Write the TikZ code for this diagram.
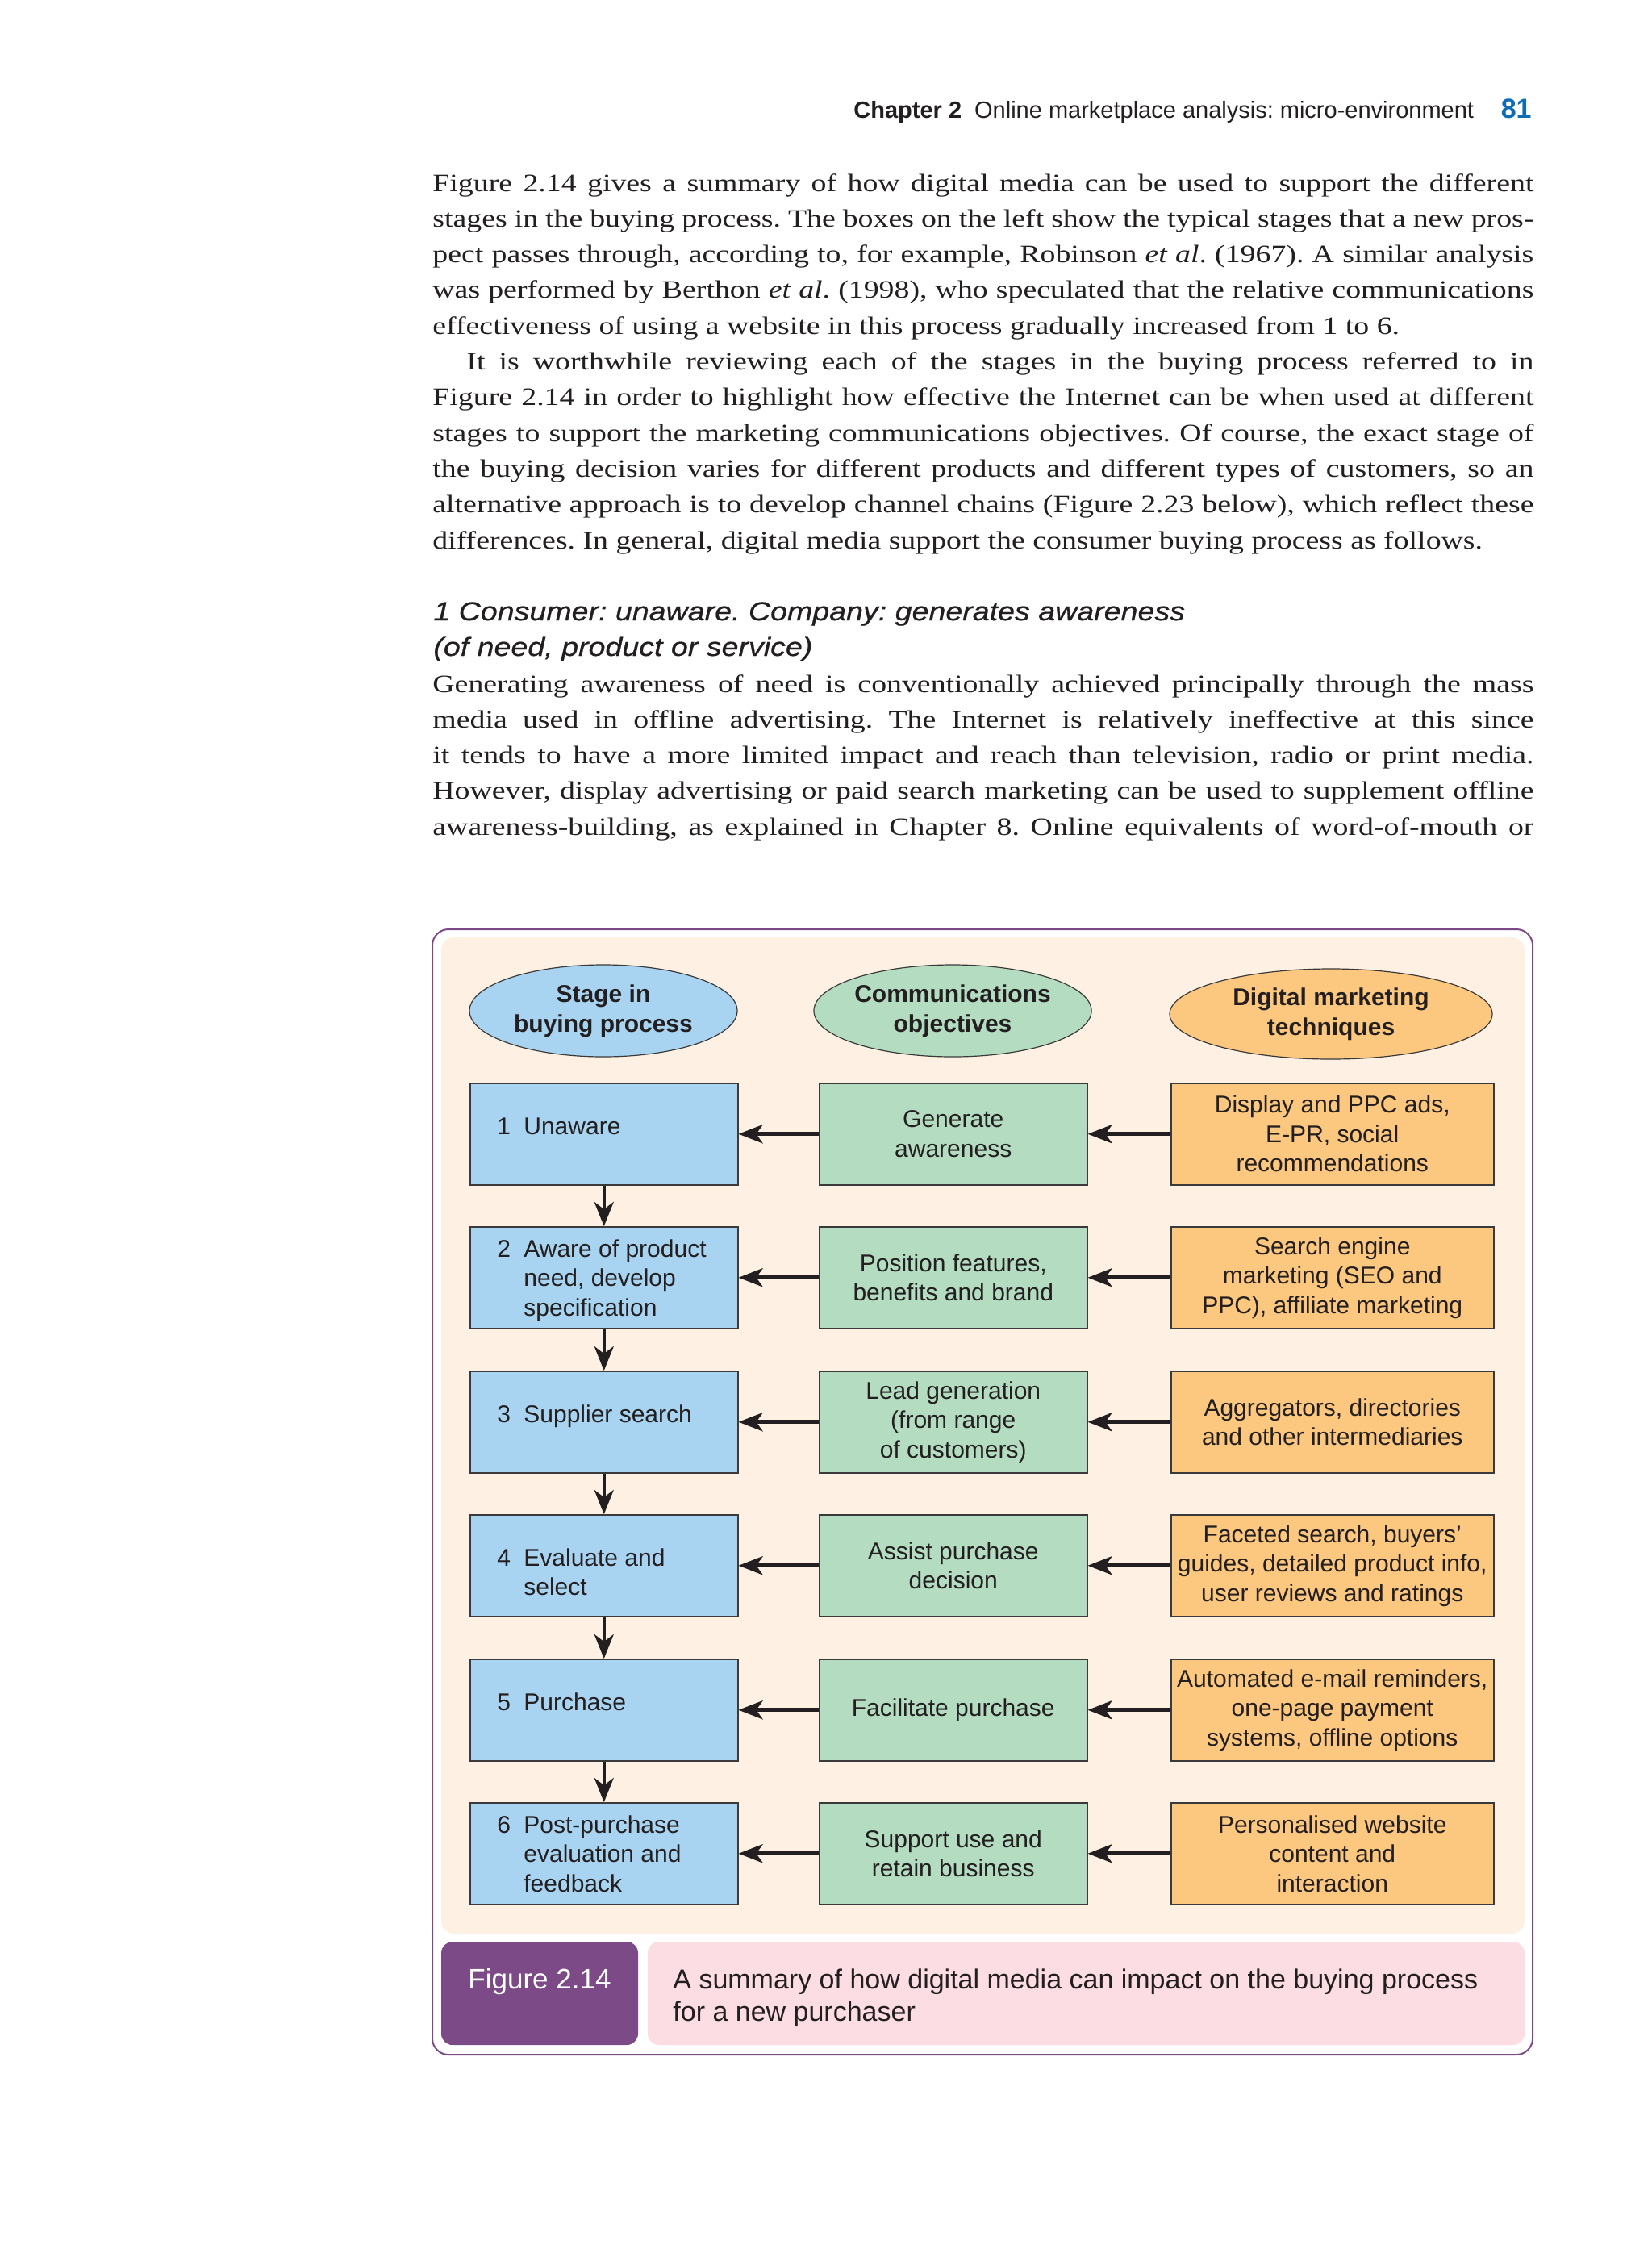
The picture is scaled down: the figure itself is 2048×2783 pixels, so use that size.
\documentclass[tikz,border=0pt]{standalone}
\usepackage{fontspec}
\setmainfont{Liberation Sans}
\newfontfamily\bodyserif{Liberation Serif}[FakeStretch=1.22]
\newfontfamily\headsans{Liberation Sans}[FakeStretch=1.16,FakeBold=0.6]
\usetikzlibrary{arrows.meta,shapes.geometric}
\definecolor{blueF}{HTML}{A9D4F1}
\definecolor{greenF}{HTML}{B4DCC1}
\definecolor{orangeF}{HTML}{FCC77F}
\definecolor{creamF}{HTML}{FEF1E3}
\definecolor{purpleF}{HTML}{7B4A87}
\definecolor{pinkF}{HTML}{FBDDE3}
\definecolor{inkC}{HTML}{231F20}
\definecolor{pagenumC}{HTML}{0E6CB5}
\definecolor{edgeC}{HTML}{3A3A3A}
\newcommand{\LW}{682.5pt}
\newcommand{\stg}[1]{\parbox[t]{140pt}{\raggedright\fontsize{15pt}{18.25pt}\selectfont #1}}
\frenchspacing
\begin{document}
\begin{tikzpicture}[x=0.5pt,y=-0.5pt,
  boxbase/.style={draw=edgeC, line width=0.75pt, inner sep=0, anchor=north west,
    minimum width=166pt, minimum height=63pt, align=center, text=inkC,
    font=\fontsize{15pt}{18.25pt}\selectfont},
  stagebox/.style={boxbase, fill=blueF},
  objbox/.style={boxbase, fill=greenF},
  techbox/.style={boxbase, fill=orangeF, minimum width=200pt},
  headell/.style={ellipse, draw=edgeC, line width=0.6pt, inner sep=0, align=center,
    text=inkC, font=\bfseries\fontsize{15pt}{18.5pt}\selectfont},
  sttext/.style={anchor=base west, inner sep=0, text=inkC, font=\fontsize{15pt}{18.25pt}\selectfont},
  harrow/.style={-{Stealth[length=15pt,width=11.5pt,inset=4pt]}, line width=2.5pt, draw=inkC},
  varrow/.style={-{Stealth[length=15pt,width=12pt,inset=4.5pt]}, line width=2pt, draw=inkC},
  plain/.style={inner sep=0, text=inkC}
]
\path[use as bounding box, fill=white] (0,0) rectangle (2048,2783);

% running head
\node[plain, anchor=base west, font=\fontsize{14.5pt}{17pt}\selectfont] (hdr) at (1058,147)
  {\textbf{Chapter 2}\hspace{8pt}Online marketplace analysis: micro-environment};
\node[inner sep=0, anchor=base east, text=pagenumC, font=\bfseries\fontsize{17pt}{20pt}\selectfont] (pnum) at (1899,147) {81};

% body text
\node[plain, anchor=base west] (body1) at (536,237) {\parbox[t]{\LW}{\bodyserif\fontsize{15.5pt}{22.15pt}\selectfont\frenchspacing
\hbox to\LW{Figure 2.14 gives a summary of how digital media can be used to support the different}
\hbox to\LW{stages in the buying process. The boxes on the left show the typical stages that a new pros-}
\hbox to\LW{pect passes through, according to, for example, Robinson \textit{et al}. (1967). A similar analysis}
\hbox to\LW{was performed by Berthon \textit{et al}. (1998), who speculated that the relative communications}
\hbox{effectiveness of using a website in this process gradually increased from 1 to 6.}
\hbox to\LW{\hskip 21pt It is worthwhile reviewing each of the stages in the buying process referred to in}
\hbox to\LW{Figure 2.14 in order to highlight how effective the Internet can be when used at different}
\hbox to\LW{stages to support the marketing communications objectives. Of course, the exact stage of}
\hbox to\LW{the buying decision varies for different products and different types of customers, so an}
\hbox to\LW{alternative approach is to develop channel chains (Figure 2.23 below), which reflect these}
\hbox{differences. In general, digital media support the consumer buying process as follows.}
}};

\node[plain, anchor=base west] (head1) at (537,769) {\parbox[t]{\LW}{\headsans\itshape\fontsize{16.2pt}{22pt}\selectfont\frenchspacing
\hbox{1 Consumer: unaware. Company: generates awareness}
\hbox{(of need, product or service)}
}};

\node[plain, anchor=base west] (body2) at (536,858) {\parbox[t]{\LW}{\bodyserif\fontsize{15.5pt}{22.15pt}\selectfont\frenchspacing
\hbox to\LW{Generating awareness of need is conventionally achieved principally through the mass}
\hbox to\LW{media used in offline advertising. The Internet is relatively ineffective at this since}
\hbox to\LW{it tends to have a more limited impact and reach than television, radio or print media.}
\hbox to\LW{However, display advertising or paid search marketing can be used to supplement offline}
\hbox to\LW{awareness-building, as explained in Chapter 8. Online equivalents of word-of-mouth or}
}};

% figure frame
\draw[draw=purpleF, line width=1pt, fill=white, rounded corners=10pt] (536,1152) rectangle (1900,2547);
\fill[creamF, rounded corners=8pt] (547,1162) rectangle (1890,2397);
\fill[purpleF, rounded corners=7pt] (547,2407) rectangle (791,2535);
\fill[pinkF, rounded corners=7pt] (803,2407) rectangle (1890,2535);

% column heads
\node[headell, fill=blueF, minimum width=166pt, minimum height=57pt] (e1) at (748,1253) {Stage in\\buying process};
\node[headell, fill=greenF, minimum width=166pt, minimum height=57pt] (e2) at (1181,1253) {Communications\\objectives};
\node[headell, fill=orangeF, minimum width=200pt, minimum height=56pt] (e3) at (1650,1257) {Digital marketing\\techniques};

% row 1
\node[stagebox] (s1) at (582,1342) {};
\node[objbox] (o1) at (1015,1342) {Generate\\awareness};
\node[techbox] (t1) at (1451,1342) {Display and PPC ads,\\E-PR, social\\recommendations};
% row 2
\node[stagebox] (s2) at (582,1520) {};
\node[objbox] (o2) at (1015,1520) {Position features,\\benefits and brand};
\node[techbox] (t2) at (1451,1520) {Search engine\\marketing (SEO and\\PPC), affiliate marketing};
% row 3
\node[stagebox] (s3) at (582,1699) {};
\node[objbox] (o3) at (1015,1699) {Lead generation\\(from range\\of customers)};
\node[techbox] (t3) at (1451,1699) {Aggregators, directories\\and other intermediaries};
% row 4
\node[stagebox] (s4) at (582,1877) {};
\node[objbox] (o4) at (1015,1877) {Assist purchase\\decision};
\node[techbox] (t4) at (1451,1877) {Faceted search, buyers’\\guides, detailed product info,\\user reviews and ratings};
% row 5
\node[stagebox] (s5) at (582,2056) {};
\node[objbox] (o5) at (1015,2056) {Facilitate purchase};
\node[techbox] (t5) at (1451,2056) {Automated e-mail reminders,\\one-page payment\\systems, offline options};
% row 6
\node[stagebox] (s6) at (582,2234) {};
\node[objbox] (o6) at (1015,2234) {Support use and\\retain business};
\node[techbox] (t6) at (1451,2234) {Personalised website\\content and\\interaction};

% stage texts
\node[sttext] (n1) at (616,1406) {1};
\node[sttext] (l1) at (649,1406) {\stg{Unaware}};
\node[sttext] (n2) at (616,1558) {2};
\node[sttext] (l2) at (649,1558) {\stg{Aware of product\\need, develop\\specification}};
\node[sttext] (n3) at (616,1763) {3};
\node[sttext] (l3) at (649,1763) {\stg{Supplier search}};
\node[sttext] (n4) at (616,1941) {4};
\node[sttext] (l4) at (649,1941) {\stg{Evaluate and\\select}};
\node[sttext] (n5) at (616,2120) {5};
\node[sttext] (l5) at (649,2120) {\stg{Purchase}};
\node[sttext] (n6) at (616,2272) {6};
\node[sttext] (l6) at (649,2272) {\stg{Post-purchase\\evaluation and\\feedback}};

% arrows
\foreach \i in {1,...,6} {
  \draw[harrow] (o\i.west) -- (s\i.east);
  \draw[harrow] (t\i.west) -- (o\i.east);
}
\foreach \i/\j in {1/2,2/3,3/4,4/5,5/6} {
  \draw[varrow] (s\i.south) -- (s\j.north);
}

% caption
\node[inner sep=0, anchor=base, text=white, font=\fontsize{17.5pt}{20pt}\selectfont] (figlab) at (669,2465) {Figure 2.14};
\node[plain, anchor=base west] (figcap) at (834,2465) {\parbox[t]{520pt}{\fontsize{17pt}{20pt}\selectfont\raggedright
A summary of how digital media can impact on the buying process\\for a new purchaser}};
\end{tikzpicture}
\end{document}
